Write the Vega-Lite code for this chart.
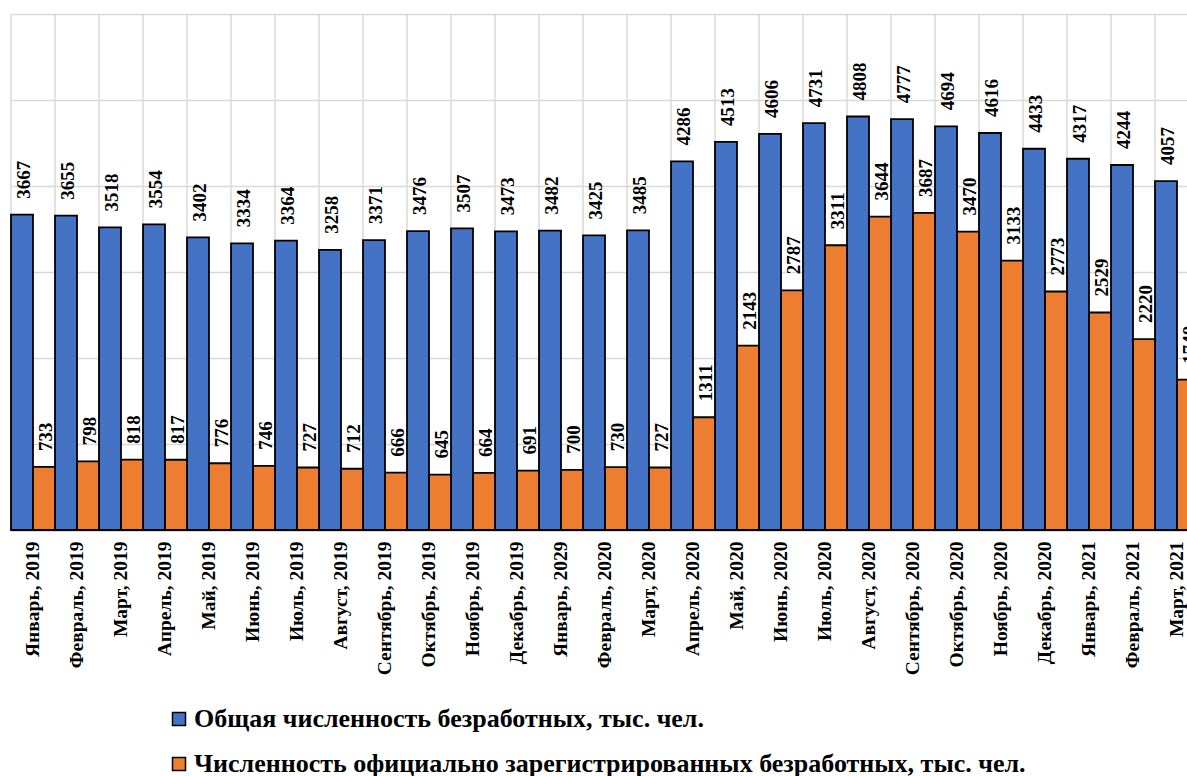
{
  "$schema": "https://vega.github.io/schema/vega-lite/v6.json",
  "width": 1176,
  "height": 516,
  "autosize": {"type": "none"},
  "padding": {"left": 11, "top": 14, "right": 0, "bottom": 246},
  "background": "white",
  "config": {"view": {"stroke": null}},
  "data": {"values": [
    {"month": "Январь, 2019", "series": "Общая численность безработных, тыс. чел.", "value": 3667},
    {"month": "Февраль, 2019", "series": "Общая численность безработных, тыс. чел.", "value": 3655},
    {"month": "Март, 2019", "series": "Общая численность безработных, тыс. чел.", "value": 3518},
    {"month": "Апрель, 2019", "series": "Общая численность безработных, тыс. чел.", "value": 3554},
    {"month": "Май, 2019", "series": "Общая численность безработных, тыс. чел.", "value": 3402},
    {"month": "Июнь, 2019", "series": "Общая численность безработных, тыс. чел.", "value": 3334},
    {"month": "Июль, 2019", "series": "Общая численность безработных, тыс. чел.", "value": 3364},
    {"month": "Август, 2019", "series": "Общая численность безработных, тыс. чел.", "value": 3258},
    {"month": "Сентябрь, 2019", "series": "Общая численность безработных, тыс. чел.", "value": 3371},
    {"month": "Октябрь, 2019", "series": "Общая численность безработных, тыс. чел.", "value": 3476},
    {"month": "Ноябрь, 2019", "series": "Общая численность безработных, тыс. чел.", "value": 3507},
    {"month": "Декабрь, 2019", "series": "Общая численность безработных, тыс. чел.", "value": 3473},
    {"month": "Январь, 2029", "series": "Общая численность безработных, тыс. чел.", "value": 3482},
    {"month": "Февраль, 2020", "series": "Общая численность безработных, тыс. чел.", "value": 3425},
    {"month": "Март, 2020", "series": "Общая численность безработных, тыс. чел.", "value": 3485},
    {"month": "Апрель, 2020", "series": "Общая численность безработных, тыс. чел.", "value": 4286},
    {"month": "Май, 2020", "series": "Общая численность безработных, тыс. чел.", "value": 4513},
    {"month": "Июнь, 2020", "series": "Общая численность безработных, тыс. чел.", "value": 4606},
    {"month": "Июль, 2020", "series": "Общая численность безработных, тыс. чел.", "value": 4731},
    {"month": "Август, 2020", "series": "Общая численность безработных, тыс. чел.", "value": 4808},
    {"month": "Сентябрь, 2020", "series": "Общая численность безработных, тыс. чел.", "value": 4777},
    {"month": "Октябрь, 2020", "series": "Общая численность безработных, тыс. чел.", "value": 4694},
    {"month": "Ноябрь, 2020", "series": "Общая численность безработных, тыс. чел.", "value": 4616},
    {"month": "Декабрь, 2020", "series": "Общая численность безработных, тыс. чел.", "value": 4433},
    {"month": "Январь, 2021", "series": "Общая численность безработных, тыс. чел.", "value": 4317},
    {"month": "Февраль, 2021", "series": "Общая численность безработных, тыс. чел.", "value": 4244},
    {"month": "Март, 2021", "series": "Общая численность безработных, тыс. чел.", "value": 4057},
    {"month": "Январь, 2019", "series": "Численность официально зарегистрированных безработных, тыс. чел.", "value": 733},
    {"month": "Февраль, 2019", "series": "Численность официально зарегистрированных безработных, тыс. чел.", "value": 798},
    {"month": "Март, 2019", "series": "Численность официально зарегистрированных безработных, тыс. чел.", "value": 818},
    {"month": "Апрель, 2019", "series": "Численность официально зарегистрированных безработных, тыс. чел.", "value": 817},
    {"month": "Май, 2019", "series": "Численность официально зарегистрированных безработных, тыс. чел.", "value": 776},
    {"month": "Июнь, 2019", "series": "Численность официально зарегистрированных безработных, тыс. чел.", "value": 746},
    {"month": "Июль, 2019", "series": "Численность официально зарегистрированных безработных, тыс. чел.", "value": 727},
    {"month": "Август, 2019", "series": "Численность официально зарегистрированных безработных, тыс. чел.", "value": 712},
    {"month": "Сентябрь, 2019", "series": "Численность официально зарегистрированных безработных, тыс. чел.", "value": 666},
    {"month": "Октябрь, 2019", "series": "Численность официально зарегистрированных безработных, тыс. чел.", "value": 645},
    {"month": "Ноябрь, 2019", "series": "Численность официально зарегистрированных безработных, тыс. чел.", "value": 664},
    {"month": "Декабрь, 2019", "series": "Численность официально зарегистрированных безработных, тыс. чел.", "value": 691},
    {"month": "Январь, 2029", "series": "Численность официально зарегистрированных безработных, тыс. чел.", "value": 700},
    {"month": "Февраль, 2020", "series": "Численность официально зарегистрированных безработных, тыс. чел.", "value": 730},
    {"month": "Март, 2020", "series": "Численность официально зарегистрированных безработных, тыс. чел.", "value": 727},
    {"month": "Апрель, 2020", "series": "Численность официально зарегистрированных безработных, тыс. чел.", "value": 1311},
    {"month": "Май, 2020", "series": "Численность официально зарегистрированных безработных, тыс. чел.", "value": 2143},
    {"month": "Июнь, 2020", "series": "Численность официально зарегистрированных безработных, тыс. чел.", "value": 2787},
    {"month": "Июль, 2020", "series": "Численность официально зарегистрированных безработных, тыс. чел.", "value": 3311},
    {"month": "Август, 2020", "series": "Численность официально зарегистрированных безработных, тыс. чел.", "value": 3644},
    {"month": "Сентябрь, 2020", "series": "Численность официально зарегистрированных безработных, тыс. чел.", "value": 3687},
    {"month": "Октябрь, 2020", "series": "Численность официально зарегистрированных безработных, тыс. чел.", "value": 3470},
    {"month": "Ноябрь, 2020", "series": "Численность официально зарегистрированных безработных, тыс. чел.", "value": 3133},
    {"month": "Декабрь, 2020", "series": "Численность официально зарегистрированных безработных, тыс. чел.", "value": 2773},
    {"month": "Январь, 2021", "series": "Численность официально зарегистрированных безработных, тыс. чел.", "value": 2529},
    {"month": "Февраль, 2021", "series": "Численность официально зарегистрированных безработных, тыс. чел.", "value": 2220},
    {"month": "Март, 2021", "series": "Численность официально зарегистрированных безработных, тыс. чел.", "value": 1748}
  ]},
  "encoding": {
    "x": {
      "field": "month", "type": "nominal", "sort": null,
      "scale": {"paddingInner": 0, "paddingOuter": 0, "range": [0, 1188]},
      "axis": {
        "title": null, "labelAngle": -90, "labelFont": "Liberation Serif", "labelFontWeight": "bold",
        "labelFontSize": 19.5, "labelColor": "black", "labelPadding": 11, "ticks": false,
        "labelOverlap": false, "labelLimit": 0, "grid": false,
        "domainColor": "#BFBFBF", "domainWidth": 2, "zindex": 0
      }
    }
  },
  "layer": [
    {
      "transform": [{"filter": "datum.series == 'Общая численность безработных, тыс. чел.'"}],
      "mark": {"type": "rule", "color": "#D9D9D9", "strokeWidth": 1.5},
      "encoding": {"x": {"field": "month", "type": "nominal", "sort": null, "bandPosition": 0}}
    },
    {
      "mark": {"type": "bar", "stroke": "black", "strokeWidth": 1.8, "opacity": 1},
      "encoding": {
        "y": {
          "field": "value", "type": "quantitative",
          "scale": {"domain": [0, 6000], "nice": false},
          "axis": {"title": null, "labels": false, "ticks": false, "domain": false, "grid": true,
                   "values": [0, 1000, 2000, 3000, 4000, 5000, 6000], "gridColor": "#D9D9D9", "gridWidth": 1.5}
        },
        "xOffset": {"field": "series", "type": "nominal", "scale": {"paddingInner": 0, "paddingOuter": 0}},
        "color": {
          "field": "series", "type": "nominal",
          "scale": {"domain": ["Общая численность безработных, тыс. чел.", "Численность официально зарегистрированных безработных, тыс. чел."],
                    "range": ["#4472C4", "#ED7D31"]},
          "legend": {
            "orient": "none", "legendX": 155, "legendY": 692, "direction": "vertical", "title": null,
            "symbolType": "square", "symbolSize": 169, "symbolStrokeColor": "black", "symbolStrokeWidth": 1.5,
            "symbolOpacity": 1,
            "labelFont": "Liberation Serif", "labelFontWeight": "bold", "labelFontSize": 26, "labelColor": "black",
            "rowPadding": 19, "labelOffset": 2, "labelLimit": 0
          }
        }
      }
    },
    {
      "mark": {"type": "text", "angle": 270, "align": "left", "baseline": "middle", "dx": 16, "dy": 2,
               "font": "Liberation Serif", "fontWeight": "bold", "fontSize": 19, "color": "black"},
      "encoding": {
        "y": {"field": "value", "type": "quantitative"},
        "xOffset": {"field": "series", "type": "nominal"},
        "text": {"field": "value", "type": "quantitative", "format": "d"}
      }
    }
  ]
}
